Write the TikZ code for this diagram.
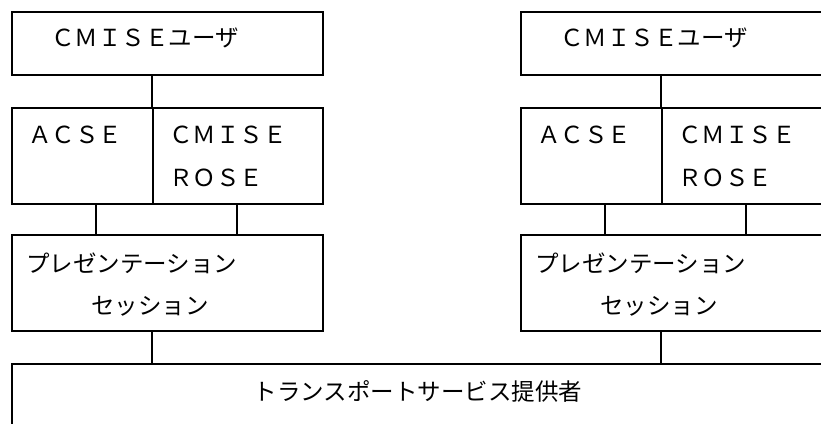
\documentclass[tikz,border=0pt]{standalone}
\usepackage{fontspec}
\setmainfont{Noto Sans CJK JP}
\begin{document}
\begin{tikzpicture}[x=1pt,y=-1pt,
  box/.style={draw=black,line width=1.6pt,rectangle,inner sep=0pt,anchor=north west},
  lbl/.style={inner sep=0pt,anchor=west,font=\fontsize{23.5}{28}\selectfont},
  conn/.style={line width=1.6pt,draw=black}]
\useasboundingbox (0,0) rectangle (821,423);
\clip (0,0) rectangle (821,423);
\foreach \o/\s in {0/L,509/R}{
  \node[box,minimum width=311pt,minimum height=63pt] (ub\s) at (11+\o,11) {};
  \node[box,minimum width=141pt,minimum height=96pt] (ac\s) at (11+\o,107) {};
  \node[box,minimum width=170pt,minimum height=96pt] (cm\s) at (152+\o,107) {};
  \node[box,minimum width=311pt,minimum height=96pt] (pr\s) at (11+\o,234) {};
  \node[lbl] (t1\s) at (51+\o,38) {ＣＭＩＳＥユーザ};
  \node[lbl] (t2\s) at (28+\o,135) {ＡＣＳＥ};
  \node[lbl] (t3\s) at (169+\o,135) {ＣＭＩＳＥ};
  \node[lbl] (t4\s) at (169+\o,178) {ＲＯＳＥ};
  \node[lbl] (t5\s) at (26+\o,263) {プレゼンテーション};
  \node[lbl] (t6\s) at (91+\o,306) {セッション};
}
\node[box,minimum width=900pt,minimum height=100pt] (tp) at (11,363) {};
\node[lbl,anchor=center] (t7) at (418,391) {トランスポートサービス提供者};
\foreach \o/\s in {0/L,509/R}{
  \draw[conn] (ub\s.south -| cm\s.north west) -- (cm\s.north west);
  \draw[conn] (ac\s.south -| 96+\o,0) -- (pr\s.north -| 96+\o,0);
  \draw[conn] (cm\s.south -| 237+\o,0) -- (pr\s.north -| 237+\o,0);
  \draw[conn] (pr\s.south -| 152+\o,0) -- (tp.north -| 152+\o,0);
}
\end{tikzpicture}
\end{document}
